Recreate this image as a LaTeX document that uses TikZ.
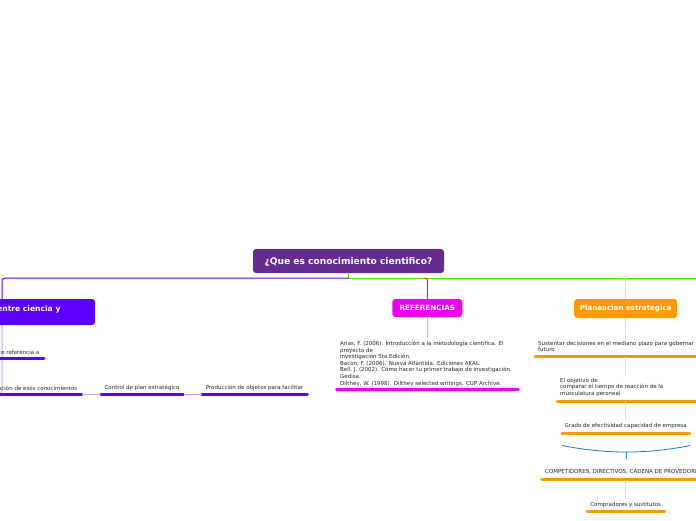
\documentclass[tikz,border=0pt]{standalone}
\usepackage{fontspec}
\setmainfont{DejaVu Sans}
\definecolor{cpurple}{HTML}{652B8E}
\definecolor{cviolet}{HTML}{5A00FF}
\definecolor{lviolet}{HTML}{B9A3FF}
\definecolor{cgreen}{HTML}{4DE600}
\definecolor{cmag}{HTML}{EE00EE}
\definecolor{lmag}{HTML}{F2A0F2}
\definecolor{corange}{HTML}{FF9900}
\definecolor{lorange}{HTML}{FFD8A0}
\definecolor{cblue}{HTML}{1F72DB}
\begin{document}
\begin{tikzpicture}[x=1pt,y=-1pt,
  small/.style={font=\fontsize{5.5}{6.6}\selectfont, text=black!85, inner sep=0pt},
  box/.style={rounded corners=3pt, inner sep=0pt, draw=none},
  boxtext/.style={text=white, font=\fontsize{7}{8}\selectfont\bfseries, inner sep=0pt},
  uline/.style={line width=2.6pt, line cap=round},
  conn/.style={line width=1pt}
]
\useasboundingbox[fill=white] (0,0) rectangle (696,520);

% central node
\node[box, fill=cpurple, minimum width=191pt, minimum height=24pt] (root) at (348.5,261) {};
\node[boxtext, font=\fontsize{9.1}{10}\selectfont\bfseries] (roott) at (348.5,261.5) {¿Que es conocimiento cientifico?};

% main connectors
\coordinate (hub) at (348.5,278);
\coordinate (rightend) at (700,278);
\coordinate (leftcorner) at (2,278);
\draw[cgreen, conn] (root.south) -- (hub) -- (rightend);

% left branch
\node[box, fill=cviolet, minimum width=160pt, minimum height=26pt] (lbox) at (15,312) {};
\node[boxtext, font=\fontsize{7.6}{8}\selectfont\bfseries, anchor=west] (lboxt) at (-3,309) {entre ciencia y};
\draw[cviolet, conn, rounded corners=3pt] (hub) -- (leftcorner) -- (lbox.north -| leftcorner);
\coordinate (lbot) at (2,325);
\coordinate (lend) at (-2,395);
\draw[lviolet, conn, rounded corners=3pt] (lbot) -- (2,394) -- (lend);

\node[small, anchor=east] (l1) at (39.5,352.5) {ce referencia a};
\coordinate (l1a) at (-2,358.5);
\coordinate (l1b) at (44,358.5);
\draw[cviolet, uline] (l1a) -- (l1b);

\node[small, anchor=east] (l2) at (77.5,388) {ación de esos conocimientos};
\coordinate (l2a) at (-2,394.5);
\coordinate (l2b) at (82,394.5);
\draw[cviolet, uline] (l2a) -- (l2b);

\node[small] (l3) at (142,388) {Control de plan estratégico};
\coordinate (l3a) at (100.5,394.5);
\coordinate (l3b) at (183.5,394.5);
\draw[cviolet, uline] (l3a) -- (l3b);

\node[small] (l4) at (254.5,388) {Producción de objetos para facilitar};
\coordinate (l4a) at (201.5,394.5);
\coordinate (l4b) at (307.5,394.5);
\draw[cviolet, uline] (l4a) -- (l4b);

\draw[lviolet, conn] (l2b) -- (l3a);
\draw[lviolet, conn] (l3b) -- (l4a);

% REFERENCIAS
\node[box, fill=cmag, minimum width=70pt, minimum height=18pt] (ref) at (427.3,308) {};
\node[boxtext, font=\fontsize{7.2}{8}\selectfont\bfseries] (reft) at (427.3,308.3) {REFERENCIAS};
\draw[cmag, conn, rounded corners=2pt] (424.5,278) -- (427.3,278) -- (ref.north);
\coordinate (refline) at (427.3,338);
\draw[lmag, conn] (ref.south) -- (refline);
\node[small, anchor=north west, align=left] (reftext) at (340,340.8) {Arias, F. (2006). Introducción a la metodología científica. El\\proyecto de\\investigación 5ta Edición.\\Bacon, F. (2006). Nueva Atlántida. Ediciones AKAL.\\Bell, J. (2002). Cómo hacer tu primer trabajo de investigación.\\Gedisa.\\Dilthey, W. (1998). Dilthey selected writings. CUP Archive.};
\coordinate (ru1) at (336.5,389.5);
\coordinate (ru2) at (518.5,389.5);
\draw[cmag, uline] (ru1) -- (ru2);

% Planeacion estrategica
\node[box, fill=corange, minimum width=103pt, minimum height=19pt] (plan) at (625.7,308.5) {};
\node[boxtext, font=\fontsize{7.1}{8}\selectfont\bfseries] (plant) at (625.7,308.8) {Planeacion estrategica};
\draw[lorange, conn, rounded corners=2pt] (623,278) -- (625.7,278) -- (plan.north);

\coordinate (p0) at (625.7,340);
\draw[lorange, conn] (plan.south) -- (p0);
\node[small, anchor=north west, align=left] (p1) at (538,341) {Sustentar decisiones en el mediano plazo para gobernar\\futuro};
\coordinate (p1a) at (535,356.5);
\coordinate (p1b) at (700,356.5);
\draw[corange, uline] (p1a) -- (p1b);

\coordinate (p1c) at (625.7,356.5);
\coordinate (p1d) at (625.7,375);
\draw[lorange, conn] (p1c) -- (p1d);
\node[small, anchor=north west, align=left] (p2) at (560,378) {El objetivo de\\comparar el tiempo de reacción de la\\musculatura peroneal};
\coordinate (p2a) at (557,401.5);
\coordinate (p2b) at (700,401.5);
\draw[corange, uline] (p2a) -- (p2b);

\coordinate (p2c) at (625.7,401.5);
\coordinate (p2d) at (625.7,420);
\draw[lorange, conn] (p2c) -- (p2d);
\node[small] (p3) at (625.7,426) {Grado de efectividad capacidad de empresa};
\coordinate (p3a) at (562,433.5);
\coordinate (p3b) at (690,433.5);
\draw[corange, uline] (p3a) -- (p3b);

% blue brace
\coordinate (bl) at (562,445.5);
\coordinate (br) at (690.5,445.5);
\coordinate (bm) at (626,452);
\coordinate (bd) at (626,458.5);
\draw[cblue, line width=0.8pt] (bl) .. controls (585,450) and (605,452) .. (bm) .. controls (647,452) and (667,450) .. (br);
\draw[cblue, line width=0.8pt] (bm) -- (bd);

\node[small, anchor=west] (p4) at (545,471.5) {COMPETIDORES, DIRECTIVOS, CADENA DE PROVEDORES};
\coordinate (p4a) at (541.5,479.5);
\coordinate (p4b) at (700,479.5);
\draw[corange, uline] (p4a) -- (p4b);

\coordinate (p4c) at (625.7,479.5);
\coordinate (p4d) at (625.7,497);
\draw[lorange, conn] (p4c) -- (p4d);
\node[small] (p5) at (625.7,504.5) {Compradores y sustitutos};
\coordinate (p5a) at (587,511.5);
\coordinate (p5b) at (665,511.5);
\draw[corange, uline] (p5a) -- (p5b);
\end{tikzpicture}
\end{document}
